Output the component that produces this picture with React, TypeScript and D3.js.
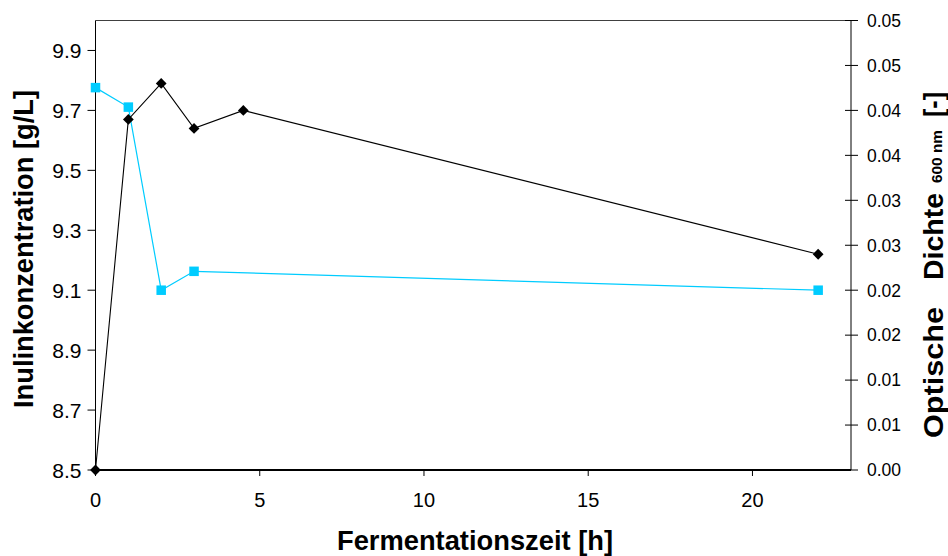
import React from "react";
import * as d3 from "d3";

const timeBlack = [0, 1, 2, 3, 4.5, 22];
const odValues = [0, 0.039, 0.043, 0.038, 0.04, 0.024];
const timeBlue = [0, 1, 2, 3, 22];
const inulinValues = [9.776, 9.711, 9.1, 9.163, 9.1];
const xTicks = [0, 5, 10, 15, 20];
const leftTicks = [8.5, 8.7, 8.9, 9.1, 9.3, 9.5, 9.7, 9.9];
const rightTicks = [0, 0.005, 0.01, 0.015, 0.02, 0.025, 0.03, 0.035, 0.04, 0.045, 0.05];

const W = 948, H = 556;
const L = 95.5, R = 851, T = 20.5, B = 470;

const fmtRight = (v: number) => (Math.round(v * 100 + 1e-6) / 100).toFixed(2);

export default function App() {
  const x = d3.scaleLinear().domain([0, 23]).range([L, R]);
  const yL = d3.scaleLinear().domain([8.5, 10]).range([B, T]);
  const yR = d3.scaleLinear().domain([0, 0.05]).range([B, T]);
  const blackPts: [number, number][] = timeBlack.map((t, i) => [x(t), yR(odValues[i])]);
  const bluePts: [number, number][] = timeBlue.map((t, i) => [x(t), yL(inulinValues[i])]);
  const line = d3.line();
  const font = "Arial, 'Liberation Sans', sans-serif";
  const diamond = d3.symbol().type(d3.symbolSquare).size(58)();
  return (
    <svg width={W} height={H} style={{ position: "absolute", left: 0, top: 0 }} fontFamily={font}>
      <rect width={W} height={H} fill="#fff" />
      {/* plot frame */}
      <line x1={L} x2={R} y1={T} y2={T} stroke="#404040" strokeWidth={1} />
      <line x1={L} x2={L} y1={T} y2={B} stroke="#000" strokeWidth={1} />
      <line x1={R} x2={R} y1={T} y2={B} stroke="#000" strokeWidth={1} />
      <line x1={L} x2={R} y1={B} y2={B} stroke="#000" strokeWidth={2} />
      {/* left ticks */}
      {leftTicks.map((v) => (
        <g key={"l" + v}>
          <line x1={L - 8} x2={L} y1={yL(v)} y2={yL(v)} stroke="#000" />
          <text x={81.5} y={yL(v)} dy="0.36em" textAnchor="end" fontSize={21}>{v.toFixed(1)}</text>
        </g>
      ))}
      {/* right ticks */}
      {rightTicks.map((v) => (
        <g key={"r" + v}>
          <line x1={R - 6} x2={R + 7} y1={yR(v)} y2={yR(v)} stroke="#000" />
          <text x={867} y={yR(v)} dy="0.36em" textAnchor="start" fontSize={17.5}>{fmtRight(v)}</text>
        </g>
      ))}
      {/* x ticks */}
      {xTicks.map((v) => (
        <g key={"x" + v}>
          <line x1={x(v)} x2={x(v)} y1={B} y2={B + 6} stroke="#000" />
          <text x={x(v)} y={507} textAnchor="middle" fontSize={20}>{v}</text>
        </g>
      ))}
      {/* series */}
      <path d={line(bluePts) || ""} fill="none" stroke="#00CCFF" strokeWidth={1.2} />
      <path d={line(blackPts) || ""} fill="none" stroke="#000" strokeWidth={1.1} />
      {bluePts.map(([px, py], i) => (
        <rect key={"b" + i} x={px - 4.75} y={py - 4.75} width={9.5} height={9.5} fill="#00CCFF" />
      ))}
      {blackPts.map(([px, py], i) => (
        <path key={"k" + i} d={diamond || ""} transform={`translate(${px},${py}) rotate(45)`} fill="#000" />
      ))}
      {/* titles */}
      <text x={475} y={550} textAnchor="middle" fontSize={27} fontWeight="bold" textLength={276} lengthAdjust="spacingAndGlyphs">Fermentationszeit [h]</text>
      <text transform="translate(33,249) rotate(-90)" textAnchor="middle" fontSize={27} fontWeight="bold" textLength={318} lengthAdjust="spacingAndGlyphs">Inulinkonzentration [g/L]</text>
      <g transform="translate(943,438) rotate(-90)" fontWeight="bold">
        <text x={0} y={0} fontSize={28} textLength={131} lengthAdjust="spacingAndGlyphs">Optische</text>
        <text x={158} y={0} fontSize={28} textLength={87} lengthAdjust="spacingAndGlyphs">Dichte</text>
        <text x={255} y={-1} fontSize={15} textLength={53} lengthAdjust="spacingAndGlyphs">600 nm</text>
        <text x={321} y={0} fontSize={28} textLength={25} lengthAdjust="spacingAndGlyphs">[-]</text>
      </g>
    </svg>
  );
}
